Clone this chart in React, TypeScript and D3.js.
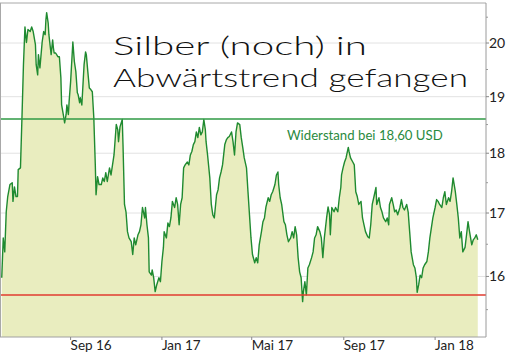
import React from "react";
import * as d3 from "d3";

const dates = [
  "2016-06-01","2016-06-03","2016-06-05","2016-06-07","2016-06-09","2016-06-12","2016-06-15","2016-06-16","2016-06-18","2016-06-20",
  "2016-06-22","2016-06-23","2016-06-26","2016-06-28","2016-06-30","2016-07-02","2016-07-04","2016-07-06","2016-07-09","2016-07-11",
  "2016-07-13","2016-07-16","2016-07-17","2016-07-19","2016-07-20","2016-07-22","2016-07-25","2016-07-27","2016-07-29","2016-07-30",
  "2016-07-31","2016-08-02","2016-08-03","2016-08-06","2016-08-08","2016-08-09","2016-08-10","2016-08-12","2016-08-15","2016-08-17",
  "2016-08-19","2016-08-20","2016-08-23","2016-08-24","2016-08-26","2016-08-27","2016-08-29","2016-08-30","2016-09-01","2016-09-04",
  "2016-09-06","2016-09-08","2016-09-10","2016-09-11","2016-09-13","2016-09-14","2016-09-16","2016-09-17","2016-09-19","2016-09-21",
  "2016-09-22","2016-09-24","2016-09-26","2016-09-28","2016-09-30","2016-10-02","2016-10-04","2016-10-05","2016-10-07","2016-10-09",
  "2016-10-12","2016-10-14","2016-10-16","2016-10-18","2016-10-20","2016-10-23","2016-10-25","2016-10-27","2016-10-29","2016-11-01",
  "2016-11-03","2016-11-04","2016-11-06","2016-11-09","2016-11-10","2016-11-12","2016-11-14","2016-11-16","2016-11-18","2016-11-21",
  "2016-11-23","2016-11-25","2016-11-27","2016-11-30","2016-12-02","2016-12-04","2016-12-06","2016-12-09","2016-12-10","2016-12-12",
  "2016-12-14","2016-12-15","2016-12-18","2016-12-19","2016-12-21","2016-12-23","2016-12-25","2016-12-28","2016-12-30","2017-01-01",
  "2017-01-03","2017-01-04","2017-01-07","2017-01-09","2017-01-11","2017-01-13","2017-01-15","2017-01-18","2017-01-20","2017-01-22",
  "2017-01-24","2017-01-26","2017-01-28","2017-01-30","2017-02-01","2017-02-04","2017-02-06","2017-02-08","2017-02-10","2017-02-12",
  "2017-02-14","2017-02-16","2017-02-18","2017-02-20","2017-02-22","2017-02-24","2017-02-26","2017-02-28","2017-03-01","2017-03-03",
  "2017-03-06","2017-03-08","2017-03-10","2017-03-12","2017-03-15","2017-03-17","2017-03-19","2017-03-21","2017-03-23","2017-03-26",
  "2017-03-28","2017-03-30","2017-04-01","2017-04-04","2017-04-06","2017-04-08","2017-04-10","2017-04-12","2017-04-15","2017-04-17",
  "2017-04-19","2017-04-21","2017-04-24","2017-04-26","2017-04-28","2017-04-30","2017-05-02","2017-05-05","2017-05-07","2017-05-09",
  "2017-05-11","2017-05-14","2017-05-16","2017-05-18","2017-05-20","2017-05-23","2017-05-25","2017-05-27","2017-05-29","2017-06-01",
  "2017-06-03","2017-06-05","2017-06-06","2017-06-08","2017-06-10","2017-06-13","2017-06-15","2017-06-17","2017-06-19","2017-06-22",
  "2017-06-24","2017-06-26","2017-06-28","2017-06-30","2017-07-02","2017-07-04","2017-07-06","2017-07-08","2017-07-09","2017-07-11",
  "2017-07-13","2017-07-15","2017-07-17","2017-07-20","2017-07-22","2017-07-24","2017-07-26","2017-07-28","2017-07-31","2017-08-02",
  "2017-08-04","2017-08-06","2017-08-09","2017-08-11","2017-08-13","2017-08-14","2017-08-16","2017-08-19","2017-08-21","2017-08-24",
  "2017-08-26","2017-08-28","2017-08-29","2017-08-31","2017-09-02","2017-09-04","2017-09-07","2017-09-08","2017-09-10","2017-09-13",
  "2017-09-15","2017-09-17","2017-09-19","2017-09-21","2017-09-24","2017-09-26","2017-09-28","2017-09-30","2017-10-03","2017-10-05",
  "2017-10-07","2017-10-09","2017-10-11","2017-10-14","2017-10-15","2017-10-18","2017-10-20","2017-10-22","2017-10-24","2017-10-27",
  "2017-10-29","2017-10-31","2017-11-01","2017-11-04","2017-11-06","2017-11-08","2017-11-10","2017-11-12","2017-11-15","2017-11-17",
  "2017-11-19","2017-11-21","2017-11-24","2017-11-26","2017-11-28","2017-11-30","2017-12-03","2017-12-05","2017-12-07","2017-12-08",
  "2017-12-10","2017-12-12","2017-12-14","2017-12-16","2017-12-18","2017-12-21","2017-12-23","2017-12-25","2017-12-27","2017-12-29",
  "2018-01-01","2018-01-03","2018-01-05","2018-01-07","2018-01-10","2018-01-12","2018-01-14","2018-01-16","2018-01-19","2018-01-21",
  "2018-01-23","2018-01-25","2018-01-27","2018-01-28","2018-01-30","2018-02-01","2018-02-03","2018-02-05","2018-02-07","2018-02-10",
  "2018-02-12","2018-02-14","2018-02-16","2018-02-19","2018-02-21","2018-02-23","2018-02-25","2018-02-27"
];

const prices = [
  15.98,16.60,16.38,17.02,17.27,17.47,17.50,17.19,17.43,17.27,
  17.27,17.72,17.75,18.62,19.59,20.31,20.01,20.26,20.22,20.31,
  20.22,19.97,19.59,19.40,19.78,19.53,20.02,20.22,20.16,20.45,
  20.59,20.39,20.16,19.78,20.06,19.91,19.81,19.81,19.74,19.74,
  19.35,18.85,18.62,18.53,18.68,18.85,18.68,18.91,19.27,20.02,
  19.65,19.46,19.07,19.04,18.89,18.98,18.85,19.09,19.59,19.83,
  19.78,19.46,19.16,19.13,19.09,18.62,17.80,17.30,17.60,17.47,
  17.47,17.58,17.52,17.67,17.52,17.75,17.63,17.80,17.97,18.50,
  18.41,18.20,18.46,18.59,18.15,17.14,17.02,16.70,16.60,16.54,
  16.34,16.60,16.49,16.65,16.70,16.81,17.09,16.92,17.09,16.81,
  16.60,16.07,16.02,16.10,15.98,15.77,15.87,15.98,15.92,16.23,
  16.45,16.70,16.60,16.84,16.78,16.92,17.19,17.09,17.25,17.14,
  16.81,17.14,17.25,17.75,17.80,17.85,17.80,17.97,18.03,18.15,
  18.20,18.37,18.27,18.45,18.32,18.37,18.59,18.41,18.20,17.97,
  17.58,17.14,16.97,16.92,17.30,17.38,17.58,17.68,17.80,18.15,
  18.23,18.27,18.29,18.37,18.20,17.97,18.37,18.53,18.50,18.27,
  18.10,17.92,17.75,17.35,16.97,16.60,16.34,16.21,16.29,16.21,
  16.49,16.70,16.86,16.92,17.10,17.25,17.19,17.30,17.35,17.47,
  17.63,17.68,17.47,17.25,17.14,16.86,16.81,16.65,16.54,16.60,
  16.70,16.60,16.78,16.65,16.29,16.07,15.98,15.62,15.77,15.92,
  15.72,16.13,16.18,16.29,16.38,16.60,16.65,16.78,16.70,16.60,
  16.29,16.60,16.92,17.10,16.97,16.65,17.09,17.02,17.09,17.02,
  17.25,17.42,17.63,17.75,17.85,17.92,18.10,18.03,17.92,17.85,
  17.80,17.35,17.27,17.14,17.19,16.92,16.81,16.70,16.62,16.60,
  16.81,17.14,17.25,17.42,17.14,17.25,17.09,17.02,16.92,16.86,
  16.92,16.81,17.14,17.25,17.14,17.02,17.05,16.97,17.09,17.22,
  17.09,17.05,17.14,17.02,16.70,16.38,16.18,16.13,15.98,15.76,
  15.87,16.02,15.98,16.13,16.18,16.23,16.38,16.60,16.76,16.92,
  17.09,17.22,17.19,17.14,17.09,17.25,17.35,17.14,17.25,17.19,
  17.35,17.58,17.43,17.35,17.14,16.92,16.60,16.70,16.38,16.45,
  16.65,16.86,16.70,16.49,16.57,16.60,16.65,16.57
];

const yTicks = [16, 17, 18, 19, 20];
const yMinorTicks = [15.5, 16.5, 17.5, 18.5, 19.5, 20.5];
const xTickDates = ["2016-09-01", "2017-01-01", "2017-05-01", "2017-09-01", "2018-01-01"];
const xTickLabels = ["Sep 16", "Jan 17", "Mai 17", "Sep 17", "Jan 18"];
const resistance = 18.6;
const support = 15.72;
const resistanceLabel = "Widerstand bei 18,60 USD";
const titleLines = ["Silber (noch) in", "Abwärtstrend gefangen"];

export default function App() {
  const W = 506, H = 357;
  const left = 1, right = 486, top = 3, bottom = 337;
  const parse = d3.utcParse("%Y-%m-%d");
  const x = d3.scaleUtc()
    .domain([parse("2016-05-31") as Date, parse("2018-03-10") as Date])
    .range([left, right]);
  const y = d3.scaleLog().domain([15.1, 20.78]).range([bottom, top]);
  const data = dates.map((d, i) => ({ date: parse(d) as Date, v: prices[i] }));
  const area = d3.area<{ date: Date; v: number }>()
    .x((d) => x(d.date))
    .y0(bottom)
    .y1((d) => y(d.v));
  const line = d3.line<{ date: Date; v: number }>()
    .x((d) => x(d.date))
    .y((d) => y(d.v));
  const font = "Lato, 'Open Sans', sans-serif";
  const titleFont = "Lato, 'Open Sans', sans-serif";

  return (
    <svg width={W} height={H} style={{ position: "fixed", left: 0, top: 0, background: "#fff" }}>
      <defs>
        <clipPath id="plot">
          <rect x={left} y={top} width={right - left} height={bottom - top} />
        </clipPath>
      </defs>
      <rect x={0} y={0} width={W} height={H} fill="#fff" />
      {yTicks.map((t) => (
        <line key={"g" + t} x1={left} x2={right} y1={y(t)} y2={y(t)} stroke="#e2e2e2" strokeWidth={1} />
      ))}
      <g clipPath="url(#plot)">
        <path d={area(data) || ""} fill="#e9edbf" />
        <path d={line(data) || ""} fill="none" stroke="#1f8a30" strokeWidth={1.4} strokeLinejoin="round" />
      </g>
      <line x1={left} x2={right} y1={y(resistance)} y2={y(resistance)} stroke="#2f9a45" strokeWidth={1.5} />
      <line x1={left} x2={right} y1={y(support)} y2={y(support)} stroke="#e03b2f" strokeWidth={1.5} />
      <text x={287} y={140} fontFamily={font} fontSize={13.2} fill="#2a8a3e">{resistanceLabel}</text>

      {/* frame */}
      <line x1={0} x2={right} y1={top} y2={top} stroke="#a8a8a8" strokeWidth={1} />
      <line x1={0.5} x2={0.5} y1={top} y2={bottom} stroke="#a8a8a8" strokeWidth={1} />
      <line x1={right} x2={right} y1={top} y2={bottom} stroke="#9a9a9a" strokeWidth={1} />
      <line x1={0} x2={right} y1={bottom} y2={bottom} stroke="#a0a0a0" strokeWidth={1} />

      {/* right axis */}
      {yTicks.map((t) => (
        <g key={"t" + t}>
          <line x1={right} x2={right + 3} y1={y(t)} y2={y(t)} stroke="#888" />
          <text x={489} y={y(t)} dy="0.36em" fontFamily={font} fontSize={14} fill="#222">{t}</text>
        </g>
      ))}
      {yMinorTicks.map((t) => (
        <line key={"m" + t} x1={right} x2={right + 2} y1={y(t)} y2={y(t)} stroke="#999" />
      ))}

      {/* bottom axis */}
      {xTickDates.map((d, i) => {
        const px = x(parse(d) as Date);
        return (
          <g key={d}>
            <line x1={px} x2={px} y1={bottom} y2={bottom + 3} stroke="#888" />
            <text x={px} y={350} fontFamily={font} fontSize={13.5} fill="#222">{xTickLabels[i]}</text>
          </g>
        );
      })}

      {/* title */}
      <text x={113} y={55} fontFamily={titleFont} fontWeight={300} fontSize={26} fill="#111"
        textLength={254} lengthAdjust="spacingAndGlyphs">{titleLines[0]}</text>
      <text x={113} y={87} fontFamily={titleFont} fontWeight={300} fontSize={26} fill="#111"
        textLength={355} lengthAdjust="spacingAndGlyphs">{titleLines[1]}</text>
    </svg>
  );
}
